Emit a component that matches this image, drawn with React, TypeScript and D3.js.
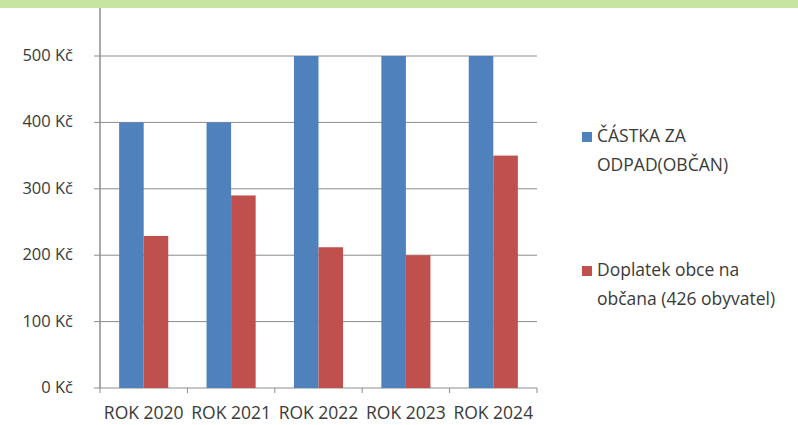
import React, { useEffect, useRef } from 'react';
import * as d3 from 'd3';

const categories = ['ROK 2020', 'ROK 2021', 'ROK 2022', 'ROK 2023', 'ROK 2024'];
const castka = [400, 400, 500, 500, 500];
const doplatek = [229, 290, 212, 200, 350];
const yTicks = [0, 100, 200, 300, 400, 500];
const seriesNames = [['ČÁSTKA ZA', 'ODPAD(OBČAN)'], ['Doplatek obce na', 'občana (426 obyvatel)']];
const colors = ['#4f81bd', '#c0504d'];

const W = 798;
const H = 425;
const font = "'Open Sans', 'Liberation Sans', Arial, sans-serif";

const App = () => {
  const svgRef = useRef<SVGSVGElement>(null);

  useEffect(() => {
    if (!svgRef.current) return;
    const svg = d3.select(svgRef.current);
    svg.selectAll('*').remove();

    svg.append('rect').attr('width', W).attr('height', H).attr('fill', '#fff');
    // green band on top
    svg.append('rect').attr('width', W).attr('height', 8).attr('fill', '#c6e5a0');

    const left = 100, right = 537, bottom = 388;
    const x = d3.scaleBand().domain(categories).range([left, right]);
    const y = d3.scaleLinear().domain([0, 500]).range([bottom, 56]);
    const inner = d3.scaleBand().domain(['a', 'b']).range([0, x.bandwidth()]).paddingOuter(0.78).paddingInner(0);

    // gridlines
    svg.append('g').selectAll('line').data(yTicks).enter().append('line')
      .attr('x1', left - 6).attr('x2', right)
      .attr('y1', d => y(d)).attr('y2', d => y(d))
      .attr('stroke', '#8c8c8c').attr('stroke-width', 1);

    // y labels
    svg.append('g').selectAll('text').data(yTicks).enter().append('text')
      .attr('x', 73).attr('y', d => y(d) + 5)
      .attr('text-anchor', 'end')
      .style('font-family', font).style('font-size', '16.5px').attr('fill', '#3a3a3a')
      .text(d => `${d} Kč`);

    // bars
    const groups = svg.append('g').selectAll('g').data(categories).enter().append('g')
      .attr('transform', d => `translate(${x(d)},0)`);
    groups.append('rect')
      .attr('x', inner('a')!).attr('width', inner.bandwidth())
      .attr('y', (d, i) => y(castka[i])).attr('height', (d, i) => bottom - y(castka[i]))
      .attr('fill', colors[0]);
    groups.append('rect')
      .attr('x', inner('b')!).attr('width', inner.bandwidth())
      .attr('y', (d, i) => y(doplatek[i])).attr('height', (d, i) => bottom - y(doplatek[i]))
      .attr('fill', colors[1]);

    // axes lines
    svg.append('line').attr('x1', left).attr('x2', left).attr('y1', 8).attr('y2', bottom)
      .attr('stroke', '#8c8c8c').attr('stroke-width', 1.5);
    const xTicks = categories.map(c => x(c)!).concat([right]);
    svg.append('g').selectAll('line').data(xTicks).enter().append('line')
      .attr('x1', d => d).attr('x2', d => d).attr('y1', bottom).attr('y2', bottom + 5)
      .attr('stroke', '#8c8c8c');

    // x labels
    svg.append('g').selectAll('text').data(categories).enter().append('text')
      .attr('x', d => x(d)! + x.bandwidth() / 2).attr('y', 419)
      .attr('text-anchor', 'middle')
      .style('font-family', font).style('font-size', '17.5px').attr('fill', '#3a3a3a')
      .text(d => d);

    // legend
    const legendY = [142, 276];
    seriesNames.forEach((lines, i) => {
      svg.append('rect').attr('x', 582).attr('y', legendY[i] - 10).attr('width', 10).attr('height', 10)
        .attr('fill', colors[i]);
      lines.forEach((t, j) => {
        svg.append('text').attr('x', 597).attr('y', legendY[i] + j * 29)
          .style('font-family', font).style('font-size', '17.5px').attr('fill', '#3a3a3a')
          .text(t);
      });
    });
  }, []);

  return (
    <div style={{ position: 'absolute', left: 0, top: 0 }}>
      <svg ref={svgRef} width={W} height={H} style={{ display: 'block' }}></svg>
    </div>
  );
};

export default App;
